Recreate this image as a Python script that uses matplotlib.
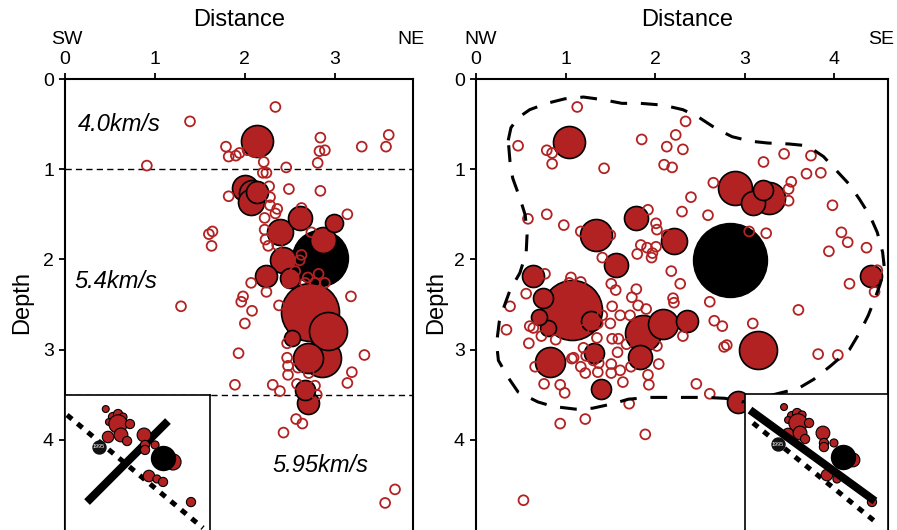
import matplotlib
matplotlib.use("Agg")
import matplotlib.pyplot as plt
import numpy as np

plt.rcParams['font.family'] = ['Liberation Sans', 'DejaVu Sans']

# ---------------- data ----------------
# Left panel (SW-NE section): open circles (distance km, depth km)
L_open_x = [2.34, 1.39, 1.79, 1.82, 1.90, 1.94, 2.03, 2.10, 2.17, 2.21, 0.91, 2.46, 2.84, 2.83, 2.89,
            2.81, 2.84, 3.30, 3.57, 3.60, 2.49, 2.20, 2.24, 2.27, 1.82, 2.28, 2.28, 2.36, 2.34, 2.63,
            3.14, 2.22, 1.60, 1.64, 1.63, 2.22, 2.23, 2.26, 2.36, 2.74, 2.63, 2.61, 2.56, 2.70, 2.82,
            2.89, 2.78, 2.67, 2.07, 1.98, 1.96, 2.24, 2.48, 3.18, 1.29, 2.08, 2.38, 2.00, 1.93, 3.33,
            2.47, 2.48, 2.48, 2.59, 2.71, 3.19, 3.14, 1.89, 2.31, 2.39, 2.78, 2.80, 2.58, 2.57, 2.64,
            2.43, 3.67, 3.56, 2.47]
L_open_y = [0.31, 0.47, 0.75, 0.86, 0.85, 0.82, 0.79, 0.81, 0.81, 0.92, 0.96, 0.98, 0.65, 0.80, 0.79,
            0.93, 1.24, 0.75, 0.75, 0.62, 1.22, 1.04, 1.04, 1.19, 1.30, 1.31, 1.40, 1.44, 1.49, 1.43,
            1.50, 1.54, 1.72, 1.69, 1.85, 1.67, 1.78, 1.85, 1.84, 1.70, 1.95, 2.01, 2.13, 2.20, 2.16,
            2.26, 2.26, 2.26, 2.26, 2.41, 2.47, 2.36, 2.26, 2.41, 2.52, 2.57, 2.51, 2.71, 3.04, 3.06,
            3.09, 3.18, 3.28, 3.20, 3.26, 3.25, 3.37, 3.39, 3.39, 3.46, 3.40, 3.50, 3.38, 3.77, 3.82,
            3.92, 4.55, 4.70, 2.93]
# Left panel filled events: position and bubble radius
L_fill_x = [2.14, 2.00, 2.08, 2.07, 2.14, 2.39, 2.61, 2.99, 2.87, 2.42, 2.23, 2.50, 2.72, 2.92,
            2.52, 2.86, 2.70, 2.67, 2.70]
L_fill_y = [0.69, 1.21, 1.26, 1.36, 1.25, 1.70, 1.54, 1.60, 1.78, 2.01, 2.18, 2.21, 2.58, 2.79,
            2.87, 3.09, 3.09, 3.45, 3.59]
L_fill_r = [16, 13, 13, 13, 11, 13, 12, 9, 13, 13, 11, 10, 29, 19, 8, 19, 15, 10, 11]
L_main = (2.84, 1.98, 28)

# Right panel (NW-SE section)
R_open_x = [1.13, 0.47, 0.79, 0.85, 0.85, 1.43, 1.85, 2.13, 2.23, 2.31, 2.34, 2.10, 2.19, 2.65, 2.40,
            2.30, 2.59, 3.21, 3.44, 3.74, 3.69, 3.85, 3.52, 3.49, 3.49, 3.98, 3.05, 3.24, 4.08, 4.15,
            3.94, 4.36, 0.58, 0.79, 0.98, 1.17, 1.50, 1.92, 2.01, 2.02, 2.13, 1.84, 1.91, 2.01, 1.97,
            1.80, 1.41, 1.96, 0.77, 0.56, 0.38, 0.34, 0.60, 0.64, 0.59, 0.66, 0.73, 0.89, 0.76, 0.94,
            0.99, 1.04, 1.06, 1.17, 1.51, 1.56, 1.52, 1.61, 1.74, 1.79, 1.81, 1.90, 1.72, 1.50, 1.41,
            1.36, 1.20, 1.35, 1.52, 1.59, 1.68, 1.58, 1.20, 1.23, 1.31, 1.37, 1.07, 1.09, 1.17, 1.22,
            1.36, 1.51, 1.51, 1.61, 1.64, 1.73, 1.92, 1.93, 2.04, 2.02, 2.31, 2.20, 2.21, 2.18, 2.28,
            2.61, 2.66, 2.75, 2.77, 2.80, 3.09, 2.46, 2.61, 1.71, 0.94, 1.22, 1.89, 0.53, 3.60, 3.82,
            4.04, 4.17, 4.45, 4.48]
R_open_y = [0.31, 0.74, 0.79, 0.82, 0.94, 0.99, 0.67, 0.75, 0.62, 0.78, 0.47, 0.95, 0.98, 1.15, 1.31,
            1.47, 1.51, 0.92, 0.83, 0.85, 1.05, 1.04, 1.14, 1.22, 1.35, 1.40, 1.69, 1.71, 1.70, 1.81,
            1.91, 1.87, 1.55, 1.50, 1.62, 1.69, 1.73, 1.45, 1.60, 1.67, 1.73, 1.84, 1.87, 1.86, 1.93,
            1.94, 1.98, 1.98, 2.16, 2.38, 2.52, 2.78, 2.74, 2.76, 2.93, 3.19, 2.85, 2.89, 3.38, 3.39,
            3.48, 2.26, 2.20, 2.25, 2.27, 2.34, 2.52, 2.62, 2.42, 2.33, 2.51, 2.55, 2.62, 2.71, 2.62,
            2.71, 2.78, 2.87, 2.88, 2.88, 2.94, 3.03, 2.98, 3.07, 3.12, 3.15, 3.10, 3.09, 3.19, 3.26,
            3.25, 3.16, 3.26, 3.23, 3.36, 3.19, 3.28, 3.39, 3.16, 2.96, 2.85, 2.43, 2.48, 2.13, 2.27,
            2.47, 2.68, 2.74, 2.97, 2.95, 2.71, 3.38, 3.49, 3.60, 3.82, 3.77, 3.94, 4.67, 2.56, 3.05,
            3.06, 2.27, 2.36, 2.12]
R_fill_x = [1.04, 2.89, 3.27, 3.09, 3.20, 1.34, 1.79, 2.21, 1.56, 4.41, 0.64, 1.07, 0.75, 0.70,
            0.80, 1.28, 0.83, 1.32, 1.40, 1.87, 1.83, 2.09, 2.36, 3.15, 2.92]
R_fill_y = [0.70, 1.21, 1.32, 1.37, 1.23, 1.73, 1.54, 1.80, 2.06, 2.18, 2.18, 2.56, 2.43, 2.64,
            2.76, 2.68, 3.14, 3.04, 3.44, 2.82, 3.08, 2.72, 2.68, 3.00, 3.58]
R_fill_r = [16, 17, 16, 12, 10, 16, 12, 13, 12, 11, 11, 30, 10, 8, 8, 10, 15, 10, 10, 18, 12, 15,
            11, 19, 11]
R_main = (2.84, 2.01, 37)

# Outline of the cluster (right panel)
R_outline_x = [0.36, 0.39, 0.47, 0.60, 0.79, 0.99, 1.20, 1.42, 1.63, 1.84, 2.09, 2.31, 2.48, 2.68,
               2.86, 3.07, 3.26, 3.49, 3.70, 3.88, 4.01, 4.16, 4.28, 4.40, 4.48, 4.54, 4.56, 4.51,
               4.46, 4.38, 4.29, 4.17, 3.96, 3.77, 3.60, 3.28, 2.97, 2.78, 2.56, 2.36, 2.13, 1.94,
               1.70, 1.53, 1.30, 1.11, 0.86, 0.69, 0.47, 0.36, 0.25, 0.23, 0.26, 0.30, 0.38, 0.49,
               0.56, 0.57, 0.55, 0.49, 0.41, 0.38, 0.36]
R_outline_y = [0.68, 0.54, 0.43, 0.34, 0.27, 0.22, 0.20, 0.23, 0.27, 0.27, 0.29, 0.34, 0.42, 0.55,
               0.64, 0.69, 0.71, 0.72, 0.74, 0.86, 1.00, 1.16, 1.33, 1.52, 1.70, 1.92, 2.10, 2.28,
               2.42, 2.62, 2.80, 3.00, 3.18, 3.33, 3.43, 3.51, 3.58, 3.54, 3.53, 3.53, 3.53, 3.53,
               3.55, 3.60, 3.65, 3.66, 3.63, 3.58, 3.47, 3.31, 3.12, 2.93, 2.69, 2.56, 2.34, 2.15,
               1.93, 1.73, 1.51, 1.32, 1.10, 0.92, 0.68]

# Velocity layers (left panel)
layer_depths = [1.0, 3.5]
layer_labels = ["4.0km/s", "5.4km/s", "5.95km/s"]
layer_label_x = [0.14, 0.10, 2.31]
layer_label_y = [0.50, 2.24, 4.28]

# Insets (map views, normalised inset coordinates, y downward)
IL_x = [0.281, 0.331, 0.366, 0.400, 0.303, 0.366, 0.448, 0.297, 0.386, 0.428, 0.545, 0.552, 0.621,
        0.552, 0.579, 0.634, 0.676, 0.869, 0.745]
IL_y = [0.104, 0.163, 0.141, 0.163, 0.200, 0.215, 0.215, 0.311, 0.296, 0.341, 0.296, 0.370, 0.370,
        0.407, 0.600, 0.622, 0.644, 0.793, 0.496]
IL_r = [3, 4, 4, 3.5, 3, 8, 4, 5, 6, 4, 6, 4, 3.5, 4, 5, 3.5, 4, 4, 7]
IL_main = (0.676, 0.467, 12)
IL_1995 = (0.234, 0.385)
IL_fault = ([0.152, 0.710], [0.793, 0.193])
IL_trace = ([0.014, 0.952], [0.148, 0.985])

IR_x = [0.273, 0.329, 0.364, 0.399, 0.301, 0.371, 0.448, 0.301, 0.385, 0.420, 0.545, 0.552, 0.622,
        0.552, 0.573, 0.643, 0.755, 0.888]
IR_y = [0.096, 0.162, 0.140, 0.154, 0.191, 0.213, 0.213, 0.294, 0.287, 0.331, 0.287, 0.360, 0.360,
        0.390, 0.596, 0.625, 0.485, 0.794]
IR_r = [3, 4, 4, 3.5, 3, 8, 4, 5, 6, 4, 6, 4, 3.5, 4, 5, 3.5, 6, 4]
IR_main = (0.685, 0.463, 12)
IR_1995 = (0.231, 0.368)
IR_fault = ([0.035, 0.909], [0.118, 0.787])
IR_trace = ([0.056, 0.923], [0.213, 0.949])

RED = '#B22222'
W, H = 897, 530

def s_of(r_px):
    return (2 * r_px * 0.72) ** 2

fig = plt.figure(figsize=(W / 100, H / 100), dpi=100)

def main_axes(left_px, right_px, xmax, ticks):
    ax = fig.add_axes([left_px / W, 0, (right_px - left_px) / W, 1 - 79 / H])
    ax.set_xlim(0, xmax)
    ax.set_ylim(5.0, 0)
    ax.xaxis.tick_top()
    ax.set_xticks(ticks)
    ax.set_xticklabels([str(t) for t in ticks])
    ax.set_yticks([0, 1, 2, 3, 4])
    ax.set_yticklabels(['0', '1', '2', '3', '4'])
    ax.tick_params(direction='out', length=4, width=1.3, labelsize=14, pad=4)
    for sp in ax.spines.values():
        sp.set_linewidth(1.5)
    ax.spines['bottom'].set_visible(False)
    return ax

def draw_events(ax, ox, oy, fx, fy, fr, main):
    ax.scatter([main[0]], [main[1]], s=s_of(main[2]), c='black', edgecolors='black',
               linewidths=1.0, zorder=2)
    order = np.argsort(fr)[::-1]
    for i in order:
        ax.scatter([fx[i]], [fy[i]], s=s_of(fr[i]), c=RED, edgecolors='black',
                   linewidths=1.2, zorder=3)
    ax.scatter(ox, oy, s=50, facecolors='none', edgecolors=RED, linewidths=1.3, zorder=4)

def draw_inset(rect, xs, ys, rs, main, tag, fault, trace, circles_on_top):
    ia = fig.add_axes(rect)
    ia.set_xlim(0, 1)
    ia.set_ylim(1, 0)
    ia.set_xticks([])
    ia.set_yticks([])
    ia.set_facecolor('white')
    for sp in ia.spines.values():
        sp.set_linewidth(1.2)
    ia.spines['bottom'].set_visible(False)
    ia.plot(trace[0], trace[1], color='black', lw=3.6, linestyle=(0, (1.3, 1.4)),
            dash_capstyle='butt', zorder=2)
    zc = 4 if circles_on_top else 2.5
    ia.plot(fault[0], fault[1], color='black', lw=5.8, solid_capstyle='butt', zorder=3)
    ia.scatter(xs, ys, s=[s_of(r * 1.15) for r in rs], c=RED, edgecolors='black',
               linewidths=0.8, zorder=zc)
    ia.scatter([main[0]], [main[1]], s=s_of(main[2]), c='black', zorder=5)
    ia.scatter([tag[0]], [tag[1]], s=s_of(6.5), c='#111111', zorder=5)
    ia.text(tag[0], tag[1], '1995', color='white', fontsize=4, ha='center', va='center', zorder=6)
    return ia

# Left panel
axL = main_axes(65, 413, 3.87, [0, 1, 2, 3])
draw_events(axL, L_open_x, L_open_y, L_fill_x, L_fill_y, L_fill_r, L_main)
for d in layer_depths:
    axL.axhline(d, color='black', lw=1.0, linestyle=(0, (4.5, 3)), zorder=1)
for t, x, y in zip(layer_labels, layer_label_x, layer_label_y):
    axL.text(x, y, t, fontsize=17, style='italic', ha='left', va='center', zorder=6)

# Right panel
axR = main_axes(476, 888, 4.6, [0, 1, 2, 3, 4])
draw_events(axR, R_open_x, R_open_y, R_fill_x, R_fill_y, R_fill_r, R_main)
axR.plot(R_outline_x, R_outline_y, color='black', lw=2.2, linestyle=(0, (5.5, 4.5)),
         dash_capstyle='butt', zorder=5)

# Insets
draw_inset([65 / W, 0, (210 - 65) / W, (530 - 395) / H], IL_x, IL_y, IL_r, IL_main, IL_1995,
           IL_fault, IL_trace, True)
draw_inset([745 / W, 0, (888 - 745) / W, (530 - 394) / H], IR_x, IR_y, IR_r, IR_main, IR_1995,
           IR_fault, IR_trace, False)

# Titles / labels
def ftext(xp, yp, s, **kw):
    fig.text(xp / W, 1 - yp / H, s, ha='center', va='center', **kw)

ftext(239, 20, 'Distance', fontsize=17)
ftext(687, 20, 'Distance', fontsize=17)
ftext(67, 40, 'SW', fontsize=14)
ftext(411, 40, 'NE', fontsize=14)
ftext(481, 40, 'NW', fontsize=14)
ftext(881, 40, 'SE', fontsize=14)
ftext(22, 303, 'Depth', fontsize=17, rotation=90)
ftext(436, 303, 'Depth', fontsize=17, rotation=90)

fig.savefig('out.png', dpi=100)
